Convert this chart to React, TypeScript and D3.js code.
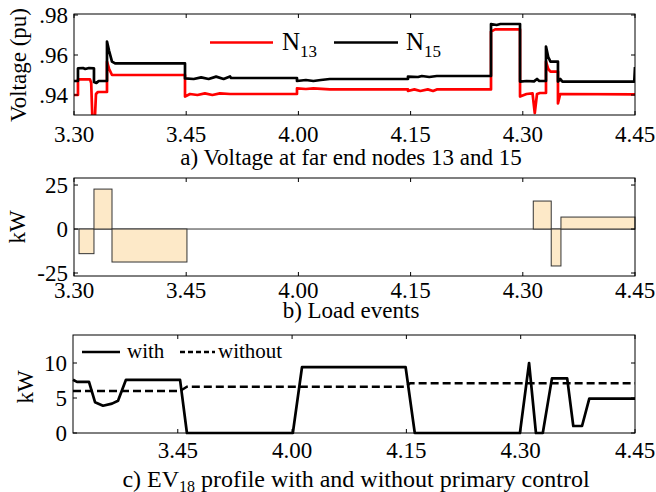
import React from 'react'
import * as d3 from 'd3'

// minutes after 3:30, labels as shown on the time axis
const tickMinutes = [0, 15, 30, 45, 60, 75]
const tickLabels = ['3.30', '3.45', '4.00', '4.15', '4.30', '4.45']

// a) voltage at far end nodes [minute, pu]
const n13: [number, number][] = [
  [0, 0.94], [0.53, 0.94], [0.53, 0.9478], [2.14, 0.9478], [2.3, 0.946], [2.45, 0.929], [2.8, 0.929],
  [2.94, 0.9405], [3.2, 0.9415], [4.41, 0.9415], [4.41, 0.9567], [4.7, 0.953], [5.08, 0.95],
  [14.84, 0.95], [14.84, 0.9392], [15.5, 0.9405], [16.5, 0.94], [17.5, 0.9408], [18.5, 0.94],
  [19.5, 0.9408], [20.86, 0.9405], [29.81, 0.9405], [29.81, 0.9433], [31, 0.943], [32, 0.9433],
  [34.2, 0.9428], [44.65, 0.9428], [44.65, 0.942], [45.5, 0.9428], [46.3, 0.942], [47.3, 0.9428],
  [48, 0.942], [48.5, 0.9428], [55.75, 0.9428], [55.75, 0.9717], [56.3, 0.9728], [59.63, 0.9728],
  [59.63, 0.9392], [60.5, 0.9405], [61.3, 0.9408], [61.6, 0.931], [61.9, 0.9405], [62.3, 0.941],
  [63.1, 0.941], [63.1, 0.9567], [63.4, 0.953], [63.7, 0.9517], [64.7, 0.9517], [64.7, 0.9358],
  [65.0, 0.9405], [75, 0.9403],
]
const n15: [number, number][] = [
  [0, 0.947], [0.53, 0.947], [0.53, 0.9533], [1.2, 0.9535], [1.5, 0.953], [2.0, 0.9535], [2.67, 0.9533],
  [2.67, 0.9465], [3.0, 0.946], [3.3, 0.947], [4.41, 0.947], [4.41, 0.9667], [4.7, 0.962], [5.08, 0.9567],
  [5.5, 0.9558], [14.84, 0.9558], [14.84, 0.9483], [16, 0.948], [17, 0.9488], [18, 0.948], [19, 0.9492],
  [20, 0.948], [20.86, 0.9493], [21, 0.9485], [29.81, 0.9485], [29.81, 0.947], [31, 0.9475], [32, 0.947],
  [33, 0.9475], [34.2, 0.948], [44.65, 0.948], [44.65, 0.9492], [46, 0.949], [46.5, 0.9495], [47.5, 0.949],
  [48.5, 0.9495], [55.75, 0.9495], [55.75, 0.9755], [56.5, 0.975], [57, 0.9755], [59.63, 0.9755],
  [59.63, 0.9467], [60.5, 0.947], [61.5, 0.9468], [61.9, 0.948], [62.2, 0.947], [63.1, 0.947],
  [63.1, 0.9642], [63.4, 0.959], [63.7, 0.9567], [64.7, 0.9567], [64.7, 0.9467], [65, 0.948],
  [65.3, 0.9467], [74.9, 0.9467], [75, 0.954],
]

// b) load events: start, end (minutes), kW
const eventStart = [0.67, 2.67, 5.08, 61.4, 63.8, 65.1]
const eventEnd = [2.67, 5.08, 15.1, 63.8, 65.1, 75]
const eventKW = [-14, 22.7, -18.75, 15.9, -21, 6.8]

// c) EV18 profile [minute, kW]
const evWith: [number, number][] = [
  [1.25, 7.6], [1.77, 7.3], [3.35, 7.3], [4.14, 4.4], [5.19, 3.9], [6.37, 4.2], [7.16, 4.6], [8.2, 7.6],
  [15.3, 7.6], [16.2, 0], [30.1, 0], [31.3, 9.4], [44.9, 9.4], [46.1, 0], [59.9, 0], [61.1, 10.0],
  [62.0, 0], [62.9, 0], [64.1, 7.8], [66.1, 7.8], [66.9, 1.0], [68.05, 1.0], [69.0, 4.9], [75, 4.9],
]
const evWithout: [number, number][] = [
  [1.25, 6.0], [15.3, 6.0], [16.2, 6.6], [44.9, 6.6], [45.5, 7.1], [75, 7.1],
]

const FONT = "'Liberation Serif', 'DejaVu Serif', serif"
const FS = 23

function Frame({ x, y, yTicks, yFmt, xTickVals, tl = 4 }: any) {
  const [x0, x1] = x.range()
  const [y0, y1] = y.range()
  return (
    <g>
      <rect x={x0} y={y1} width={x1 - x0} height={y0 - y1} fill="none" stroke="#000" strokeWidth={1} />
      {xTickVals.map((t: number) => (
        <g key={'x' + t}>
          <line x1={x(t)} x2={x(t)} y1={y0} y2={y0 - tl} stroke="#000" />
          <line x1={x(t)} x2={x(t)} y1={y1} y2={y1 + tl} stroke="#000" />
        </g>
      ))}
      {yTicks.map((t: number) => (
        <g key={'y' + t}>
          <line x1={x0} x2={x0 + tl} y1={y(t)} y2={y(t)} stroke="#000" />
          <line x1={x1} x2={x1 - tl} y1={y(t)} y2={y(t)} stroke="#000" />
          <text x={x0 - 6} y={y(t)} dy="0.35em" textAnchor="end">{yFmt(t)}</text>
        </g>
      ))}
    </g>
  )
}

function XLabels({ x, vals, y }: any) {
  return (
    <g>
      {vals.map((t: number) => (
        <text key={t} x={x(t)} y={y} textAnchor="middle">{tickLabels[tickMinutes.indexOf(t)]}</text>
      ))}
    </g>
  )
}

export default function App() {
  // panel a
  const xA = d3.scaleLinear().domain([0, 75]).range([74, 635])
  const yA = d3.scaleLinear().domain([0.93, 0.9805]).range([115, 14])
  const lineA = d3.line<[number, number]>().x(d => xA(d[0])).y(d => yA(d[1]))

  // panel b
  const yB = d3.scaleLinear().domain([-26.7, 29]).range([276, 178])

  // panel c
  const xC = d3.scaleLinear().domain([1.25, 75]).range([73, 635])
  const yC = d3.scaleLinear().domain([0, 14]).range([433, 335])
  const lineC = d3.line<[number, number]>().x(d => xC(d[0])).y(d => yC(d[1]))

  return (
    <svg width={656} height={492} style={{ position: 'absolute', left: 0, top: 0, background: '#fff', fontFamily: FONT, fontSize: FS }}
      fill="#000">
      <defs>
        <clipPath id="clipA"><rect x={74} y={14} width={561} height={101} /></clipPath>
      </defs>

      {/* a) voltage */}
      <g clipPath="url(#clipA)" fill="none" strokeWidth={2.7} strokeLinejoin="round">
        <path d={lineA(n13) || ''} stroke="#ff0000" />
        <path d={lineA(n15) || ''} stroke="#000" />
      </g>
      <Frame x={xA} y={yA} yTicks={[0.94, 0.96, 0.98]} yFmt={(v: number) => d3.format('.2f')(v).slice(1)} xTickVals={tickMinutes} />
      <XLabels x={xA} vals={tickMinutes} y={142} />
      <text transform="translate(26,65) rotate(-90)" textAnchor="middle">Voltage (pu)</text>
      <text x={351} y={165} textAnchor="middle">a) Voltage at far end nodes 13 and 15</text>
      <line x1={210} x2={273} y1={42.5} y2={42.5} stroke="#ff0000" strokeWidth={2.6} />
      <text x={282} y={50} style={{ fontSize: 25 }}>N<tspan style={{ fontSize: 17 }} dy={7}>13</tspan></text>
      <line x1={334} x2={398} y1={42.5} y2={42.5} stroke="#000" strokeWidth={2.6} />
      <text x={406} y={50} style={{ fontSize: 25 }}>N<tspan style={{ fontSize: 17 }} dy={7}>15</tspan></text>

      {/* b) load events */}
      <line x1={74} x2={635} y1={yB(0)} y2={yB(0)} stroke="#333" strokeWidth={1} />
      {eventKW.map((v, i) => (
        <rect key={i} x={xA(eventStart[i])} width={xA(eventEnd[i]) - xA(eventStart[i])}
          y={Math.min(yB(v), yB(0))} height={Math.abs(yB(v) - yB(0))}
          fill="#fde9c8" stroke="#333" strokeWidth={1} />
      ))}
      <Frame x={xA} y={yB} yTicks={[-25, 0, 25]} yFmt={(v: number) => String(v)} xTickVals={tickMinutes} />
      <XLabels x={xA} vals={tickMinutes} y={298} />
      <text transform="translate(25,227) rotate(-90)" textAnchor="middle">kW</text>
      <text x={351} y={318} textAnchor="middle">b) Load events</text>

      {/* c) EV profile */}
      <path d={lineC(evWithout) || ''} fill="none" stroke="#000" strokeWidth={2.4} strokeDasharray="8,4" />
      <path d={lineC(evWith) || ''} fill="none" stroke="#000" strokeWidth={2.7} strokeLinejoin="round" />
      <Frame x={xC} y={yC} yTicks={[0, 5, 10]} yFmt={(v: number) => String(v)} xTickVals={tickMinutes.slice(1)} />
      <XLabels x={xC} vals={tickMinutes.slice(1)} y={458} />
      <text transform="translate(33,387) rotate(-90)" textAnchor="middle">kW</text>
      <line x1={82} x2={120} y1={352} y2={352} stroke="#000" strokeWidth={2.6} />
      <text x={127} y={358} style={{ fontSize: 21 }}>with</text>
      <line x1={180} x2={215} y1={352} y2={352} stroke="#000" strokeWidth={2.4} strokeDasharray="5,3" />
      <text x={218} y={358} style={{ fontSize: 21 }}>without</text>
      <text x={356} y={487} textAnchor="middle" style={{ fontSize: 24 }}>c) EV<tspan style={{ fontSize: 16 }} dy={5}>18</tspan><tspan dy={-5}> profile with and without primary control</tspan></text>
    </svg>
  )
}
